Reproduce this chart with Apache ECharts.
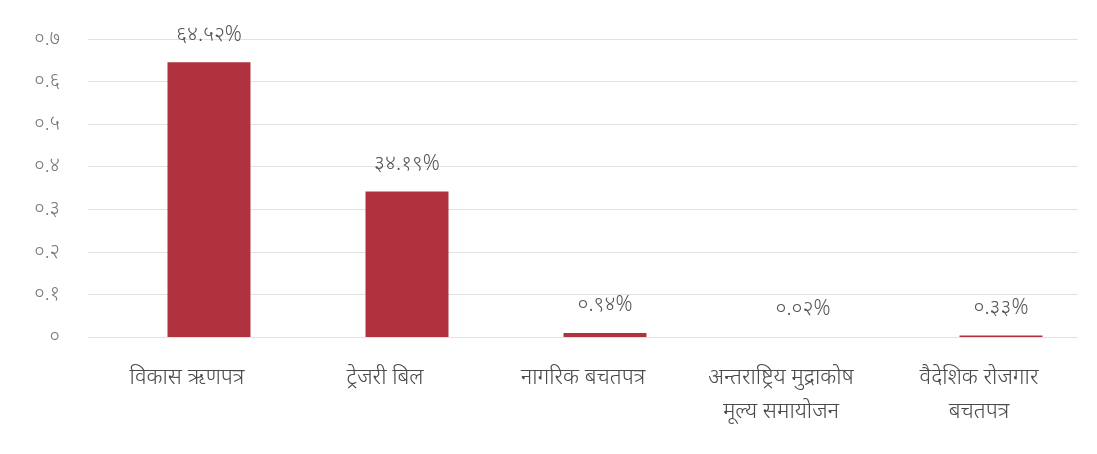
<!DOCTYPE html>
<html>
<head>
<meta charset="utf-8">
<script src="https://cdn.jsdelivr.net/npm/echarts@6/dist/echarts.min.js"></script>
<style>
html,body{margin:0;padding:0;background:#fff;}
#c{width:1097px;height:454px;}
</style>
</head>
<body>
<div id="c"></div>
<script>
const categories = ['विकास ऋणपत्र', 'ट्रेजरी बिल', 'नागरिक बचतपत्र', 'अन्तराष्ट्रिय मुद्राकोष\nमूल्य समायोजन', 'वैदेशिक रोजगार\nबचतपत्र'];
const values = [0.6452, 0.3419, 0.0094, 0.0002, 0.0033];
const valueLabels = ['६४.५२%', '३४.१९%', '०.९४%', '०.०२%', '०.३३%'];
const yTickLabels = ['०', '०.१', '०.२', '०.३', '०.४', '०.५', '०.६', '०.७'];

const font = "'Noto Sans', 'Noto Sans Devanagari', 'Lohit Devanagari', sans-serif";
const chart = echarts.init(document.getElementById('c'));
chart.setOption({
  backgroundColor: '#ffffff',
  animation: false,
  grid: { left: 88, right: 19, top: 39, bottom: 117 },
  xAxis: {
    type: 'category',
    data: categories,
    axisLine: { show: false },
    axisTick: { show: false },
    axisLabel: { color: '#4a4a4a', fontSize: 22, fontWeight: 300, fontFamily: font, lineHeight: 34, margin: 24, interval: 0 }
  },
  yAxis: {
    type: 'value',
    min: 0, max: 0.7, interval: 0.1,
    axisLine: { show: false },
    axisTick: { show: false },
    splitLine: { lineStyle: { color: '#e2e2e2', width: 1 } },
    axisLabel: {
      color: '#777', fontSize: 20, fontWeight: 300, fontFamily: font, margin: 28,
      formatter: function (v) { return yTickLabels[Math.round(v * 10)]; }
    }
  },
  series: [
    { type: 'bar', data: categories.map(() => null), barWidth: 83, silent: true },
    {
      type: 'bar',
      data: values,
      barWidth: 83,
      barGap: '-47%',
      itemStyle: { color: '#b0323f' },
      label: {
        show: true, position: 'top', distance: 17,
        color: '#555', fontSize: 21, fontWeight: 300, fontFamily: font,
        formatter: function (p) { return valueLabels[p.dataIndex]; }
      }
    }
  ]
});
</script>
</body>
</html>
